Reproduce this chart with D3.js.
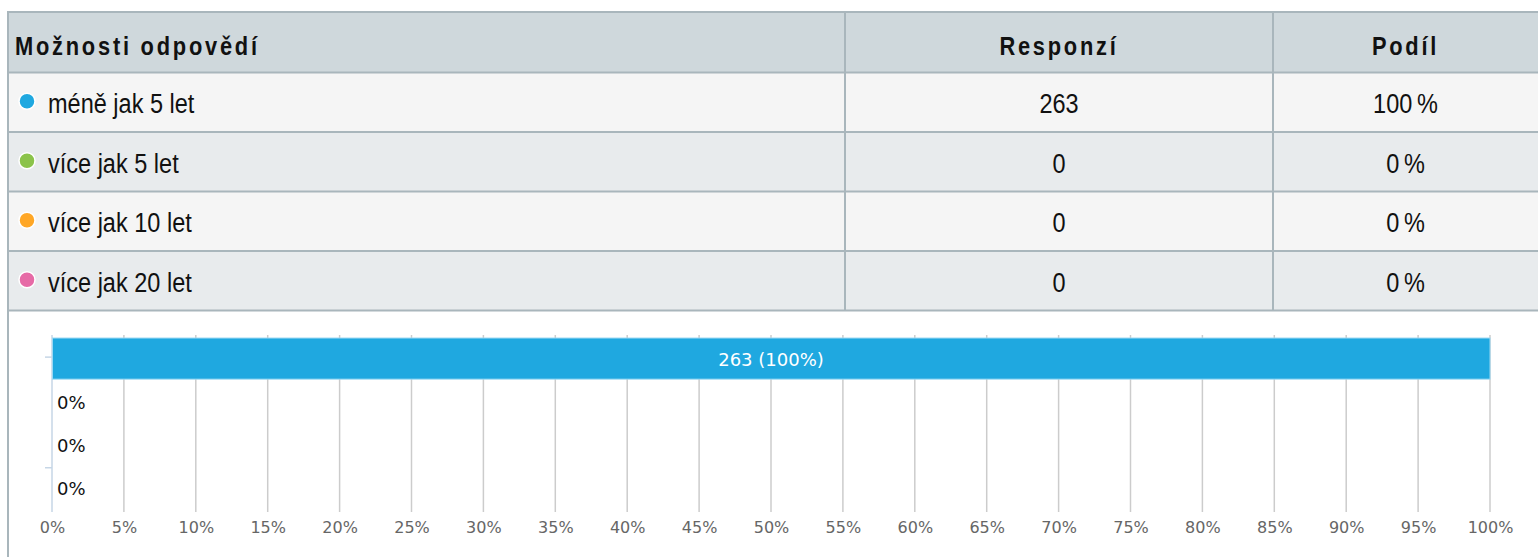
<!DOCTYPE html>
<html>
<head>
<meta charset="utf-8">
<script src="https://cdn.jsdelivr.net/npm/d3@7"></script>
<style>
  body { margin: 0; background: #fff; }
  .tbl text { font-family: "Liberation Sans", Arial, sans-serif; fill: #111; }
  .chart text { font-family: "DejaVu Sans", Verdana, sans-serif; }
</style>
</head>
<body>
<div id="chart"></div>
<script>
// data
var categories = ["méně jak 5 let", "více jak 5 let", "více jak 10 let", "více jak 20 let"];
var responses = [263, 0, 0, 0];
var shares = [100, 0, 0, 0];
var headers = ["Možnosti odpovědí", "Responzí", "Podíl"];
var dotColors = ["#1fa8e0", "#8bc34a", "#ffa726", "#e66aa6"];

var W = 1538, H = 557;
var narrow = 0.84; // squeeze to look like a condensed face

var svg = d3.select("#chart").append("svg")
  .attr("width", W)
  .attr("height", H);

function at(x, y) { return "translate(" + x + "," + y + ") scale(" + narrow + ",1)"; }

// ---- table ----
var tbl = svg.append("g").attr("class", "tbl");
var colX = [8, 845, 1273, W];
var headTop = 12, headH = 60.5, rowH = 59.5;
var rowY = d3.scaleLinear().domain([0, 1]).range([headTop + headH, headTop + headH + rowH]);

tbl.append("rect")
  .attr("x", colX[0]).attr("y", headTop)
  .attr("width", W - colX[0]).attr("height", headH)
  .attr("fill", "#cfd8dc");

tbl.selectAll("rect.row")
  .data(categories)
  .enter().append("rect")
    .attr("class", "row")
    .attr("x", colX[0])
    .attr("y", function(d, i) { return rowY(i); })
    .attr("width", W - colX[0])
    .attr("height", rowH)
    .attr("fill", function(d, i) { return i % 2 ? "#e8ebed" : "#f5f5f5"; });

// horizontal borders
var hLines = [headTop].concat(d3.range(categories.length + 1).map(function(i) { return rowY(i); }));
tbl.selectAll("line.h")
  .data(hLines)
  .enter().append("line")
    .attr("x1", colX[0]).attr("x2", W)
    .attr("y1", function(d) { return d; }).attr("y2", function(d) { return d; })
    .attr("stroke", "#a9b6bc").attr("stroke-width", 2);

// vertical borders
tbl.selectAll("line.v")
  .data([colX[1], colX[2]])
  .enter().append("line")
    .attr("x1", function(d) { return d; }).attr("x2", function(d) { return d; })
    .attr("y1", headTop).attr("y2", rowY(categories.length))
    .attr("stroke", "#a9b6bc").attr("stroke-width", 2);

// left border of the whole block
svg.append("line")
  .attr("x1", colX[0]).attr("x2", colX[0])
  .attr("y1", headTop - 1).attr("y2", H)
  .attr("stroke", "#a9b6bc").attr("stroke-width", 2);

// header text
var headY = 55;
tbl.append("text")
  .attr("transform", at(15, headY))
  .attr("font-size", 26).attr("font-weight", "bold")
  .attr("letter-spacing", 3.3)
  .text(headers[0]);
tbl.selectAll("text.hc")
  .data(headers.slice(1))
  .enter().append("text")
    .attr("transform", function(d, i) { return at((colX[i + 1] + colX[i + 2]) / 2, headY); })
    .attr("text-anchor", "middle")
    .attr("font-size", 26).attr("font-weight", "bold")
    .attr("letter-spacing", 3.3)
    .text(function(d) { return d; });

// rows
var rows = tbl.selectAll("g.r")
  .data(categories)
  .enter().append("g")
    .attr("transform", function(d, i) { return "translate(0," + (rowY(i) + rowH / 2) + ")"; });

rows.append("circle")
  .attr("cx", 27).attr("cy", -1).attr("r", 8)
  .attr("fill", function(d, i) { return dotColors[i]; })
  .attr("stroke", "#fff").attr("stroke-width", 1.5);

rows.append("text")
  .attr("transform", at(48, 11))
  .attr("font-size", 28)
  .text(function(d) { return d; });

rows.append("text")
  .attr("transform", at((colX[1] + colX[2]) / 2, 11))
  .attr("text-anchor", "middle")
  .attr("font-size", 28)
  .text(function(d, i) { return responses[i]; });

rows.append("text")
  .attr("transform", at((colX[2] + colX[3]) / 2, 11))
  .attr("text-anchor", "middle")
  .attr("font-size", 28)
  .text(function(d, i) { return shares[i] + "\u2009%"; });

// ---- bar chart ----
var chart = svg.append("g").attr("class", "chart");
var x = d3.scaleLinear().domain([0, 100]).range([52, 1490]);
var y = d3.scaleBand().domain(categories).range([335, 512]).paddingInner(0.05).paddingOuter(0.07);
var yIdx = d3.scaleLinear().domain([-0.5, categories.length - 0.5]).range([335, 512]);

// grid
chart.selectAll("line.grid")
  .data(d3.range(5, 101, 5))
  .enter().append("line")
    .attr("x1", function(d) { return x(d); }).attr("x2", function(d) { return x(d); })
    .attr("y1", 335).attr("y2", 512)
    .attr("stroke", "#cccccc").attr("stroke-width", 1.5);

// y axis line + ticks
chart.append("line")
  .attr("x1", x(0)).attr("x2", x(0))
  .attr("y1", 335).attr("y2", 512)
  .attr("stroke", "#c6d6e6").attr("stroke-width", 1.5);
chart.selectAll("line.yt")
  .data([0, 2.5])
  .enter().append("line")
    .attr("x1", x(0) - 7).attr("x2", x(0))
    .attr("y1", function(d) { return yIdx(d); }).attr("y2", function(d) { return yIdx(d); })
    .attr("stroke", "#c6d6e6").attr("stroke-width", 1.5);

// x axis labels
var xAxis = chart.append("g")
  .attr("transform", "translate(0,512)")
  .call(d3.axisBottom(x).tickValues(d3.range(0, 101, 5)).tickSize(0).tickPadding(9.5)
    .tickFormat(function(d) { return d + "%"; }));
xAxis.select(".domain").remove();
xAxis.selectAll("text").attr("font-size", 16).attr("fill", "#666").attr("font-family", "DejaVu Sans, sans-serif");

// bars
chart.selectAll("rect.bar")
  .data(categories)
  .enter().append("rect")
    .attr("x", x(0) + 0.5)
    .attr("y", function(d) { return y(d); })
    .attr("width", function(d, i) { return Math.max(0, x(shares[i]) - x(0) - 0.5); })
    .attr("height", y.bandwidth())
    .attr("fill", dotColors[0])
    .attr("stroke", "#9ad8f3").attr("stroke-width", 1)
    .attr("display", function(d, i) { return shares[i] > 0 ? null : "none"; });

// bar labels
chart.selectAll("text.lbl")
  .data(categories)
  .enter().append("text")
    .attr("x", function(d, i) { return shares[i] > 0 ? (x(0) + x(shares[i])) / 2 : x(0) + 5; })
    .attr("y", function(d) { return y(d) + y.bandwidth() / 2 + 7; })
    .attr("text-anchor", function(d, i) { return shares[i] > 0 ? "middle" : "start"; })
    .attr("font-size", 18)
    .attr("fill", function(d, i) { return shares[i] > 0 ? "#fff" : "#111"; })
    .text(function(d, i) { return shares[i] > 0 ? responses[i] + " (" + shares[i] + "%)" : shares[i] + "%"; });
</script>
</body>
</html>
